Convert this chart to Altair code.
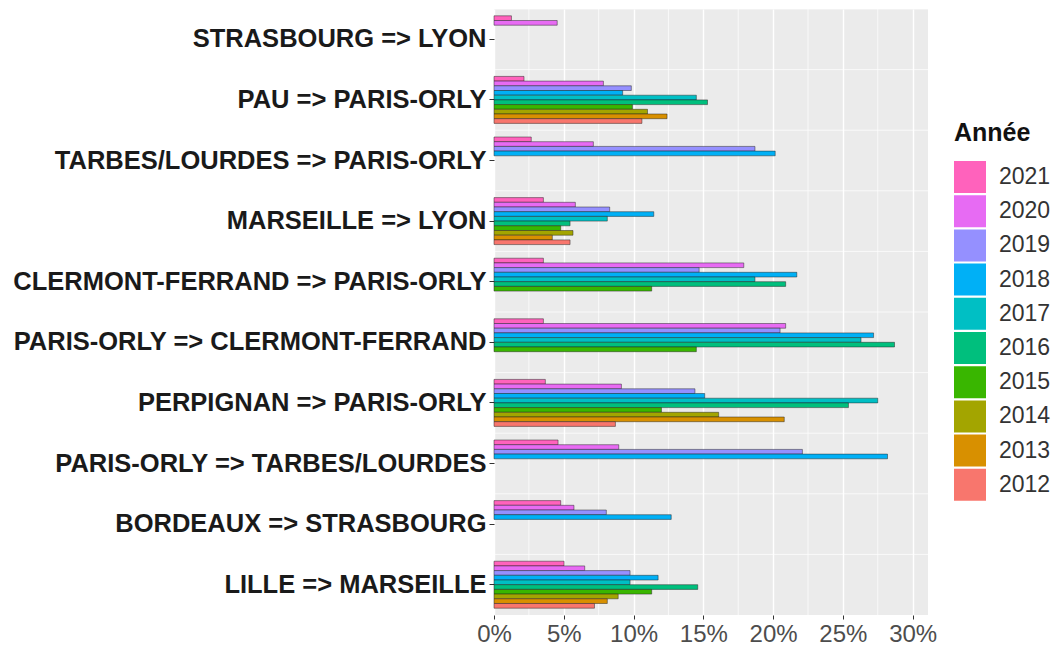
import altair as alt
import pandas as pd

routes = [
    "STRASBOURG => LYON",
    "PAU => PARIS-ORLY",
    "TARBES/LOURDES => PARIS-ORLY",
    "MARSEILLE => LYON",
    "CLERMONT-FERRAND => PARIS-ORLY",
    "PARIS-ORLY => CLERMONT-FERRAND",
    "PERPIGNAN => PARIS-ORLY",
    "PARIS-ORLY => TARBES/LOURDES",
    "BORDEAUX => STRASBOURG",
    "LILLE => MARSEILLE",
]
years = ["2021", "2020", "2019", "2018", "2017", "2016", "2015", "2014", "2013", "2012"]
colors = ["#FF62BC", "#E76BF3", "#9590FF", "#00B0F6", "#00BFC4",
          "#00BF7D", "#39B600", "#A3A500", "#D89000", "#F8766D"]

# values in percent, years 2021 -> 2012 (None = no data)
strasbourg_lyon = [1.25, 4.53, None, None, None, None, None, None, None, None]
pau_orly = [2.15, 7.84, 9.84, 9.22, 14.5, 15.3, 9.92, 11.0, 12.4, 10.6]
tarbes_orly = [2.67, 7.12, 18.7, 20.15, None, None, None, None, None, None]
marseille_lyon = [3.54, 5.83, 8.29, 11.45, 8.12, 5.45, 4.78, 5.66, 4.18, 5.45]
clermont_orly = [3.54, 17.9, 14.7, 21.7, 18.7, 20.9, 11.3, None, None, None]
orly_clermont = [3.54, 20.9, 20.5, 27.2, 26.3, 28.7, 14.5, None, None, None]
perpignan_orly = [3.68, 9.13, 14.4, 15.1, 27.5, 25.4, 12.0, 16.1, 20.8, 8.7]
orly_tarbes = [4.59, 8.94, 22.1, 28.2, None, None, None, None, None, None]
bordeaux_strasbourg = [4.78, 5.73, 8.05, 12.7, None, None, None, None, None, None]
lille_marseille = [5.02, 6.5, 9.75, 11.76, 9.75, 14.6, 11.3, 8.9, 8.12, 7.2]

series = [strasbourg_lyon, pau_orly, tarbes_orly, marseille_lyon, clermont_orly,
          orly_clermont, perpignan_orly, orly_tarbes, bordeaux_strasbourg, lille_marseille]

x_ticks = [0, 0.05, 0.10, 0.15, 0.20, 0.25, 0.30]
x_minor = [0.025, 0.075, 0.125, 0.175, 0.225, 0.275]

rows = []
for r, vals in zip(routes, series):
    for y, v in zip(years, vals):
        if v is not None:
            rows.append({"route": r, "year": y, "value": v / 100})
df = pd.DataFrame(rows)

W, H = 434, 606
FONT = "Liberation Sans"

x_scale = alt.Scale(domain=[0, 0.311], nice=False, zero=False)
y_scale = alt.Scale(domain=routes, paddingInner=0, paddingOuter=0)
# empty slots at both ends of each group give the gap between groups
offset_domain = ["_gap_top"] + years + ["_gap_bottom"]

x_axis = alt.Axis(values=x_ticks, format=".0%", grid=True, gridColor="white", gridWidth=1.4,
                  domain=False, tickColor="#333333", tickSize=4, labelFontSize=24,
                  labelColor="#4D4D4D", labelFont=FONT, labelPadding=3, labelFlush=False,
                  title=None)
y_axis = alt.Axis(grid=False, domain=False, tickColor="#333333", tickSize=5,
                  labelFontSize=25.5, labelFontWeight="bold", labelColor="#1A1A1A",
                  labelFont=FONT, labelPadding=3, labelLimit=0,
                  minExtent=486, maxExtent=486, title=None)

minor = alt.Chart(pd.DataFrame({"v": x_minor})).mark_rule(color="white", strokeWidth=0.7).encode(
    x=alt.X("v:Q", scale=x_scale, axis=x_axis),
    y=alt.value(0), y2=alt.value(H),
)

hlines = alt.Chart(pd.DataFrame({"route": routes})).mark_rule(color="white", strokeWidth=0.7).encode(
    y=alt.Y("route:N", scale=y_scale, axis=y_axis, bandPosition=0),
    x=alt.value(0), x2=alt.value(W),
)

bars = alt.Chart(df).mark_bar(stroke="#222222", strokeWidth=0.6, strokeOpacity=0.8).encode(
    x=alt.X("value:Q", scale=x_scale, axis=x_axis),
    y=alt.Y("route:N", scale=y_scale, axis=y_axis),
    yOffset=alt.YOffset("year:N", scale=alt.Scale(domain=offset_domain, paddingInner=0, paddingOuter=0.45)),
    color=alt.Color("year:N", scale=alt.Scale(domain=years, range=colors),
                    legend=alt.Legend(title="Année", orient="none", legendX=460, legendY=112,
                                      symbolType="square", symbolSize=1024, symbolStrokeWidth=0,
                                      symbolOpacity=1, rowPadding=2.2, labelOffset=13,
                                      labelFontSize=23, labelFont=FONT, labelColor="#333333",
                                      titleFontSize=25, titleFont=FONT, titleFontWeight="bold",
                                      titleColor="#111111", titlePadding=15, padding=0)),
)

chart = alt.layer(minor, hlines, bars).properties(
    width=W, height=H, padding={"left": 0, "top": 0, "right": 0, "bottom": 0}
).configure(background="white").configure_view(fill="#EBEBEB", stroke=None)

chart.save("out.html", embed_options={"renderer": "svg", "actions": False})
